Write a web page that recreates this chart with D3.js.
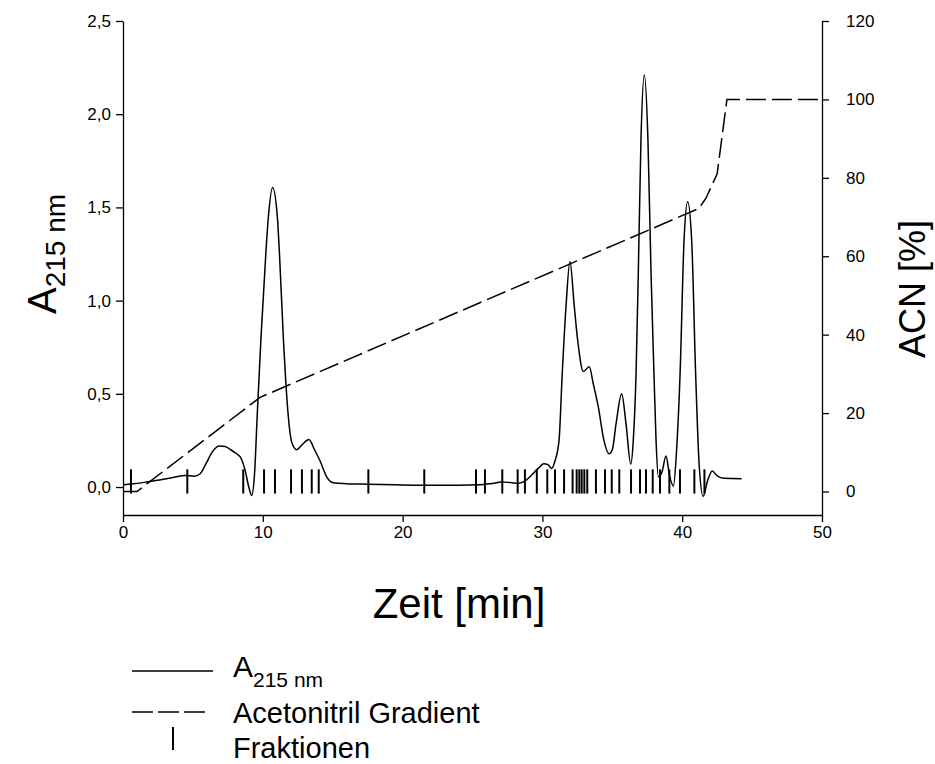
<!DOCTYPE html>
<html>
<head>
<meta charset="utf-8">
<script src="https://cdn.jsdelivr.net/npm/d3@7"></script>
<style>
  html, body { margin: 0; padding: 0; background: #fff; }
  svg { display: block; font-family: "Liberation Sans", Arial, sans-serif; }
</style>
</head>
<body>
<svg id="chart" width="935" height="764"></svg>
<script>
// ---- data ----
const timeMin = [0.0,0.7,1.5,2.5,3.5,4.5,5.1,5.5,5.9,6.4,6.9,7.3,7.7,8.1,8.4,8.7,9.0,9.2,9.4,9.61,9.87,10.23,10.4,10.7,11.04,11.18,11.47,11.8,12.07,12.42,12.85,13.3,13.7,14.1,14.57,15.05,16.0,17.5,19.5,21.5,24.0,25.5,26.3,27.1,27.7,28.3,28.8,29.3,29.7,30.1,30.4,30.66,30.9,31.19,31.42,31.69,31.97,32.28,32.52,32.93,33.35,33.65,34.0,34.4,34.77,35.0,35.27,35.67,35.98,36.32,36.5,36.7,36.86,37.05,37.29,37.55,37.77,37.98,38.13,38.29,38.55,38.84,39.1,39.37,39.6,39.85,40.13,40.39,40.68,40.96,41.22,41.5,41.8,42.15,42.5,43.0,44.25];
const absorbance = [0.012,0.017,0.025,0.037,0.05,0.062,0.058,0.07,0.12,0.19,0.22,0.218,0.2,0.18,0.16,0.1,0.0,-0.045,0.06,0.4,0.8,1.27,1.45,1.607,1.45,1.27,0.8,0.4,0.24,0.2,0.23,0.255,0.2,0.14,0.055,0.023,0.018,0.015,0.012,0.01,0.01,0.012,0.018,0.027,0.024,0.02,0.035,0.07,0.1,0.125,0.12,0.1,0.14,0.25,0.61,0.97,1.21,0.97,0.79,0.62,0.645,0.55,0.43,0.25,0.178,0.2,0.34,0.5,0.34,0.123,0.25,0.61,1.15,1.86,2.21,1.86,1.15,0.61,0.25,0.055,0.08,0.166,0.06,0.005,0.2,0.61,1.32,1.53,1.32,0.61,0.11,-0.05,0.03,0.086,0.06,0.047,0.045];

const gradientTime = [0, 1.0, 9.8, 41.2, 41.7, 42.5, 43.2, 50];
const gradientACN  = [0, 0, 24, 72.2, 74.8, 81, 100, 100];

const fractionTimes = [0.57,4.6,8.6,10.09,10.87,12.02,12.8,13.5,14.0,17.55,21.55,25.25,25.89,27.13,28.23,28.75,29.6,30.35,30.9,31.55,32.16,32.45,32.64,32.81,33.0,33.21,33.83,34.48,34.96,35.5,36.34,36.98,37.41,37.89,38.41,39.08,39.84,40.87,41.59];
const fractionSpan = [-0.035, 0.095];

const xTicks = [0, 10, 20, 30, 40, 50];
const yLeftTicks = [0, 0.5, 1.0, 1.5, 2.0, 2.5];
const yRightTicks = [0, 20, 40, 60, 80, 100, 120];

const xTitle = "Zeit [min]";
const yLeftTitleMain = "A", yLeftTitleSub = "215 nm";
const yRightTitle = "ACN [%]";
const legendLabels = ["A", "Acetonitril Gradient", "Fraktionen"];

// ---- layout ----
const svg = d3.select("#chart");
const X0 = 123, X1 = 822, YT = 21, YB = 515;

const x = d3.scaleLinear().domain([0, 50]).range([X0, X1]);
const yL = d3.scaleLinear().domain([-0.15, 2.5]).range([YB, YT]);
const yR = d3.scaleLinear().domain([-6, 120]).range([YB, YT]);

const fmtComma = v => d3.format(".1f")(v).replace(".", ",");

const axStyle = g => {
  g.selectAll("path.domain").attr("stroke", "#000").attr("stroke-width", 1.3);
  g.selectAll(".tick line").attr("stroke", "#000").attr("stroke-width", 1.3);
  g.selectAll(".tick text").attr("fill", "#000").style("font-size", "17px")
    .style("font-family", '"Liberation Sans", Arial, sans-serif');
};

svg.append("g").attr("transform", `translate(0,${YB})`)
  .call(d3.axisBottom(x).tickValues(xTicks).tickSize(7).tickSizeOuter(0).tickPadding(4))
  .call(axStyle);

svg.append("g").attr("transform", `translate(${X0},0)`)
  .call(d3.axisLeft(yL).tickValues(yLeftTicks).tickFormat(fmtComma).tickSize(7).tickSizeOuter(0).tickPadding(5))
  .call(axStyle);

svg.append("g").attr("transform", `translate(${X1},0)`)
  .call(d3.axisRight(yR).tickValues(yRightTicks).tickSize(7).tickSizeOuter(0).tickPadding(17))
  .call(axStyle);

// ---- chromatogram ----
const chrom = timeMin.map((t, i) => [t, absorbance[i]]);
svg.append("path")
  .datum(chrom)
  .attr("fill", "none").attr("stroke", "#000").attr("stroke-width", 1.5)
  .attr("d", d3.line().x(d => x(d[0])).y(d => yL(d[1])).curve(d3.curveMonotoneX));

// ---- gradient ----
const grad = gradientTime.map((t, i) => [t, gradientACN[i]]);
svg.append("path")
  .datum(grad)
  .attr("fill", "none").attr("stroke", "#000").attr("stroke-width", 1.5)
  .attr("stroke-dasharray", "20,6")
  .attr("d", d3.line().x(d => x(d[0])).y(d => yR(d[1])));

// ---- fractions ----
svg.append("g").selectAll("line").data(fractionTimes).join("line")
  .attr("x1", d => x(d)).attr("x2", d => x(d))
  .attr("y1", yL(fractionSpan[0])).attr("y2", yL(fractionSpan[1]))
  .attr("stroke", "#000").attr("stroke-width", 2);

// ---- titles ----
svg.append("text").attr("x", 459).attr("y", 618)
  .attr("text-anchor", "middle").style("font-size", "42px").text(xTitle);

const lt = svg.append("text").attr("transform", "translate(56,254) rotate(-90)")
  .attr("text-anchor", "middle");
lt.append("tspan").style("font-size", "40px").text(yLeftTitleMain);
lt.append("tspan").style("font-size", "28px").attr("dy", 9).text(yLeftTitleSub);

svg.append("text").attr("transform", "translate(925,289) rotate(-90)")
  .attr("text-anchor", "middle").style("font-size", "36px").text(yRightTitle);

// ---- legend ----
const lg = svg.append("g");
lg.append("line").attr("x1", 132).attr("x2", 213).attr("y1", 671).attr("y2", 671)
  .attr("stroke", "#000").attr("stroke-width", 1.5);
const l1 = lg.append("text").attr("x", 233).attr("y", 677);
l1.append("tspan").style("font-size", "30px").text(legendLabels[0]);
l1.append("tspan").style("font-size", "21px").attr("dy", 10).text(yLeftTitleSub);

lg.append("line").attr("x1", 132).attr("x2", 207).attr("y1", 712).attr("y2", 712)
  .attr("stroke", "#000").attr("stroke-width", 1.5).attr("stroke-dasharray", "21,5");
lg.append("text").attr("x", 233).attr("y", 723).style("font-size", "29px").text(legendLabels[1]);

lg.append("line").attr("x1", 173).attr("x2", 173).attr("y1", 727).attr("y2", 750)
  .attr("stroke", "#000").attr("stroke-width", 2);
lg.append("text").attr("x", 233).attr("y", 758).style("font-size", "29px").text(legendLabels[2]);
</script>
</body>
</html>
